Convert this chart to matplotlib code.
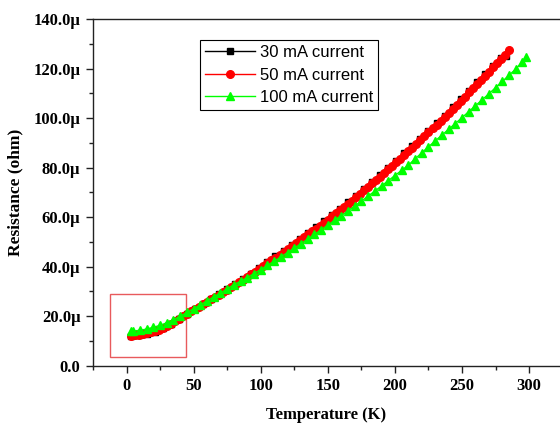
import matplotlib
matplotlib.use("Agg")
import matplotlib.pyplot as plt
from matplotlib.ticker import FuncFormatter, MultipleLocator
from matplotlib.patches import Rectangle

# Temperature (K) and resistance (micro-ohm)
t_30 = [3, 9, 15, 21, 27, 33, 39, 45, 51, 57, 63, 69, 75, 81, 87, 93, 99, 105, 111, 117,
        123, 129, 135, 141, 147, 153, 159, 165, 171, 177, 183, 189, 195, 201, 207, 213,
        219, 225, 231, 237, 243, 249, 255, 261, 267, 273, 279, 283]
r_30 = [11.8, 12.2, 12.8, 13.8, 15.1, 16.8, 18.9, 20.8, 22.9, 24.9, 26.9, 28.9, 30.9, 33.0,
        35.1, 37.2, 39.4, 41.8, 44.1, 46.4, 48.8, 51.2, 53.6, 56.0, 58.4, 60.9, 63.4, 66.0,
        68.7, 71.4, 74.2, 77.0, 79.9, 82.8, 85.7, 88.7, 91.7, 94.8, 97.9, 101.0, 104.3,
        107.6, 111.0, 114.4, 117.7, 121.1, 124.2, 125.2]

t_50 = [3, 6, 9, 12, 15, 18, 21, 24, 27, 30, 33, 36, 39, 42, 45, 48, 51, 54, 57, 60,
        63, 66, 69, 72, 75, 78, 81, 84, 87, 90, 93, 96, 99, 102, 105, 108, 111, 114, 117,
        120, 123, 126, 129, 132, 135, 138, 141, 144, 147, 150, 153, 156, 159, 162, 165,
        168, 171, 174, 177, 180, 183, 186, 189, 192, 195, 198, 201, 204, 207, 210, 213,
        216, 219, 222, 225, 228, 231, 234, 237, 240, 243, 246, 249, 252, 255, 258, 261,
        264, 267, 270, 273, 276, 279, 282, 285]
r_50 = [12.0, 12.2, 12.4, 12.7, 13.0, 13.5, 14.0, 14.6, 15.3, 16.0, 16.9, 17.9, 19.0, 19.9,
        20.9, 21.9, 22.9, 23.9, 24.8, 25.8, 26.8, 27.7, 28.7, 29.7, 30.7, 31.7, 32.7, 33.8,
        34.8, 35.8, 36.9, 38.0, 39.1, 40.2, 41.4, 42.5, 43.6, 44.7, 45.9, 47.0, 48.2, 49.4,
        50.6, 51.8, 53.0, 54.2, 55.4, 56.6, 57.8, 59.0, 60.3, 61.5, 62.8, 64.1, 65.4, 66.7,
        68.1, 69.4, 70.8, 72.2, 73.6, 75.0, 76.4, 77.9, 79.3, 80.7, 82.2, 83.6, 85.1, 86.6,
        88.1, 89.6, 91.1, 92.6, 94.2, 95.8, 97.3, 98.9, 100.4, 102.0, 103.7, 105.4, 107.0,
        108.7, 110.4, 112.1, 113.8, 115.4, 117.1, 118.8, 120.5, 122.2, 123.8, 125.6, 127.4]

t_100 = [3, 5, 10, 15, 20, 25, 30, 35, 40, 45, 50, 55, 60, 65, 70, 75, 80, 85, 90, 95,
         100, 105, 110, 115, 120, 125, 130, 135, 140, 145, 150, 155, 160, 165, 170, 175,
         180, 185, 190, 195, 200, 205, 210, 215, 220, 225, 230, 235, 240, 245, 250, 255,
         260, 265, 270, 275, 280, 285, 290, 295, 298]
r_100 = [14.0, 14.0, 14.3, 14.8, 15.5, 16.3, 17.3, 18.6, 20.0, 21.5, 23.0, 24.6, 26.2, 27.8,
         29.4, 31.0, 32.7, 34.1, 35.6, 37.2, 38.8, 40.5, 42.2, 43.9, 45.7, 47.5, 49.3, 51.1,
         53.0, 54.9, 56.8, 58.7, 60.6, 62.5, 64.5, 66.5, 68.5, 70.5, 72.6, 74.7, 76.8, 78.9,
         81.0, 83.5, 86.0, 88.4, 90.8, 93.1, 95.5, 97.8, 100.2, 102.6, 105.0, 107.4, 109.8,
         112.3, 114.8, 117.3, 119.8, 122.8, 124.8]

labels = ["30 mA current", "50 mA current", "100 mA current"]

fig = plt.figure(figsize=(5.6, 4.23), dpi=100)
ax = fig.add_axes([0.166, 0.1355, 0.834, 0.8195])

ax.plot(t_30, r_30, color="black", marker="s", markersize=5, linewidth=1.0, label=labels[0])
ax.plot(t_50, r_50, color="red", marker="o", markersize=5.5, linewidth=1.0, label=labels[1])
ax.plot(t_100, r_100, color="#00ff00", marker="^", markersize=6, linewidth=1.0, label=labels[2])

ax.add_patch(Rectangle((-12, 3.5), 56, 25.5, fill=False, edgecolor="#e85a5c", linewidth=1.0))

ax.set_xlim(-25, 323)
ax.set_ylim(0, 140)
ax.xaxis.set_major_locator(MultipleLocator(50))
ax.xaxis.set_minor_locator(MultipleLocator(25))
ax.yaxis.set_major_locator(MultipleLocator(20))
ax.yaxis.set_minor_locator(MultipleLocator(10))

def yfmt(v, pos):
    if abs(v) < 1e-9:
        return "0.0"
    return "%.1f\u00b5" % v

ax.yaxis.set_major_formatter(FuncFormatter(yfmt))
ax.xaxis.set_major_formatter(FuncFormatter(lambda v, p: "%d" % v))

ax.spines["right"].set_visible(False)
for s in ["left", "bottom", "top"]:
    ax.spines[s].set_linewidth(1.0)
    ax.spines[s].set_color("#222222")

ax.tick_params(which="both", direction="out", top=False, right=False, color="#222222")
ax.tick_params(which="major", length=5, width=1.0, pad=4)
ax.tick_params(which="minor", length=3, width=1.0)

for lab in ax.get_xticklabels() + ax.get_yticklabels():
    lab.set_fontfamily("Liberation Serif")
    lab.set_fontweight("bold")
    lab.set_fontsize(12)

ax.set_xlabel("Temperature (K)", fontfamily="Liberation Serif", fontweight="bold",
              fontsize=12, labelpad=9)
ax.set_ylabel("Resistance (ohm)", fontfamily="Liberation Serif", fontweight="bold",
              fontsize=12.5, labelpad=7)

leg = ax.legend(loc="upper left", bbox_to_anchor=(0.229, 0.9394), frameon=True,
                fancybox=False, edgecolor="black", framealpha=1.0,
                prop={"family": "Liberation Sans", "size": 12},
                handlelength=3.0, handletextpad=0.3, borderpad=0.3, labelspacing=0.45,
                markerscale=1.0, borderaxespad=0)
leg.get_frame().set_linewidth(0.8)

fig.savefig("out.png", dpi=100)
